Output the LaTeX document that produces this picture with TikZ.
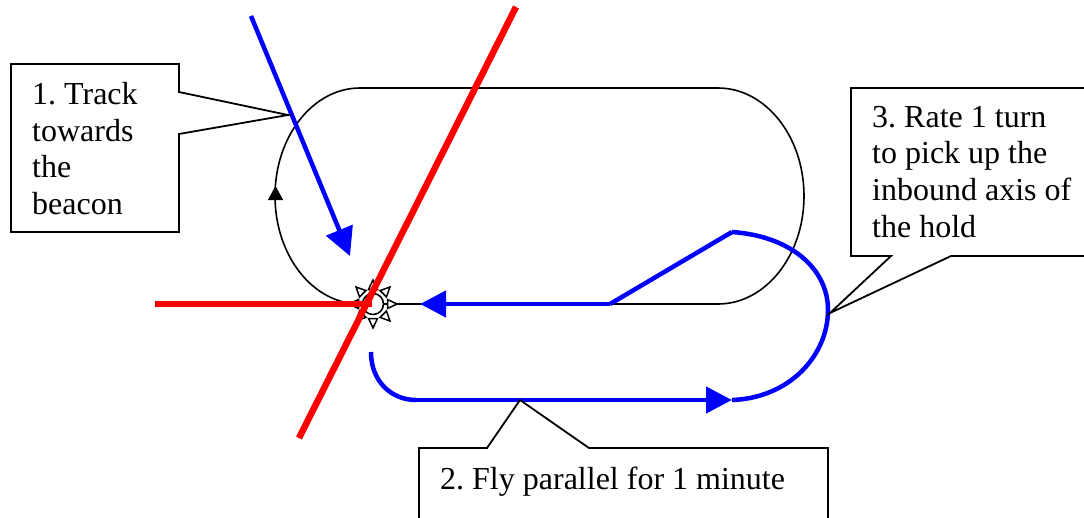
\documentclass[tikz,border=0pt]{standalone}
\usepackage{fontspec}
\setmainfont{Liberation Serif}
\usetikzlibrary{arrows.meta}
\tikzset{
  holdline/.style={black,line width=1.6pt},
  bluepath/.style={blue,line width=4.5pt},
  redpath/.style={red,line width=6.5pt},
  bluearrow/.style={bluepath,-{Triangle[length=26pt,width=26pt]}},
  calloutbox/.style={draw=black,line width=1.8pt,fill=white,line join=miter},
  calltext/.style={font=\fontsize{32}{36.6}\selectfont,align=left,anchor=north west,inner sep=0pt},
  ray/.style={draw=black,fill=white,line width=1.5pt,line join=miter},
}
\frenchspacing
\begin{document}
\begin{tikzpicture}[x=1pt,y=-1pt]
\useasboundingbox (0,0) rectangle (1084,517);
% named points
\coordinate (holdTL) at (360,88);
\coordinate (holdTR) at (718,88);
\coordinate (holdBR) at (718,304);
\coordinate (holdBL) at (360,304);
\coordinate (beacon) at (373,304);
% hold racetrack
\draw[holdline] (holdBL) -- (holdBR) .. controls (765.5,304) and (804,255.6) .. (804,196)
  .. controls (804,136.4) and (765.5,88) .. (holdTR) -- (holdTL)
  .. controls (313,88) and (275,136.4) .. (275,196)
  .. controls (275,255.6) and (313,304) .. (holdBL);
\coordinate (upTail) at (275.5,205);
\coordinate (upTip) at (275.5,186);
\draw[holdline,-{Triangle[length=14pt,width=15pt]}] (upTail) -- (upTip);
% beacon
\draw[holdline,fill=white] (beacon) circle[radius=10.5];
\foreach \a in {0,45,...,315}{
  \draw[ray,rotate around={\a:(beacon)}] (beacon) ++(14.5,-4.5) -- ++(0,9) -- ++(9.5,-4.5) -- cycle;
}
% red lines
\coordinate (redA) at (516,7);
\coordinate (redB) at (299,438);
\coordinate (redC) at (155,304);
\coordinate (redD) at (372,304);
\draw[redpath] (redA) -- (redB);
\draw[redpath] (redC) -- (redD);
% blue paths
\coordinate (trackA) at (251,16);
\coordinate (trackB) at (350,256);
\draw[bluepath,-{Triangle[length=28pt,width=28pt]}] (trackA) -- (trackB);
\coordinate (inA) at (732,232);
\coordinate (inB) at (610,304);
\coordinate (inC) at (420,304);
\draw[bluepath] (inA) -- (inB);
\draw[bluearrow] (inB) -- (inC);
\coordinate (parA) at (416,400);
\coordinate (parB) at (732,400);
\coordinate (turnStart) at (371,352);
\draw[bluepath] (turnStart) .. controls (371,382) and (392,400) .. (parA);
\draw[bluearrow] (parA) -- (parB);
\draw[bluepath] (parB) .. controls (790,398) and (828,355) .. (828,310)
  .. controls (828,268) and (790,236) .. (inA);
% callouts
\draw[calloutbox] (11,64) -- (179,64) -- (179,92) -- (288,115) -- (179,134) -- (179,232) -- (11,232) -- cycle;
\node[calltext] (t1) at (32,82) {1. Track\\towards\\the\\beacon};
\draw[calloutbox] (851,88) -- (1090,88) -- (1090,256) -- (951,256) -- (830,313) -- (891,256) -- (851,256) -- cycle;
\node[calltext] (t3) at (872,106) {3. Rate 1 turn\\to pick up the\\inbound axis of\\the hold};
\draw[calloutbox] (419,530) -- (419,448) -- (487,448) -- (520,400) -- (589,448) -- (828,448) -- (828,530);
\node[calltext] (t2) at (440,467) {2. Fly parallel for 1 minute};
\end{tikzpicture}
\end{document}
